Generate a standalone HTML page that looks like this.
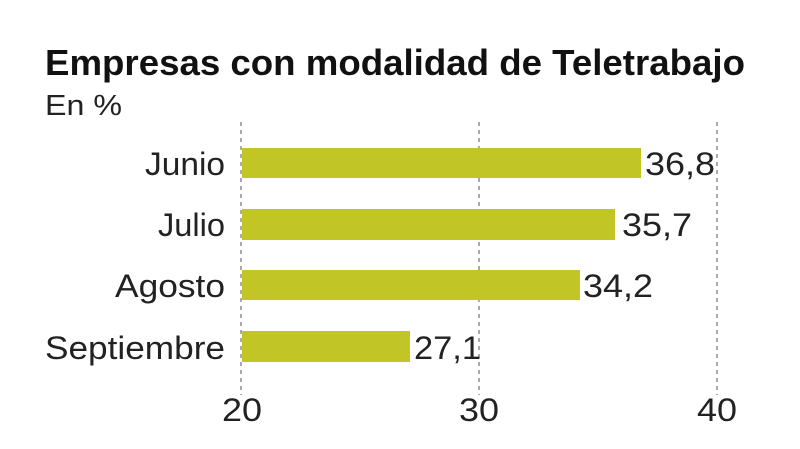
<!DOCTYPE html>
<html><head><meta charset="utf-8"><style>
body{margin:0;background:#fff;}
svg{display:block;font-family:"Liberation Sans",sans-serif;}
</style></head><body>
<svg width="800" height="449" viewBox="0 0 800 449">
<text x="45" y="75" font-size="36" font-weight="bold" fill="#111" textLength="700" lengthAdjust="spacingAndGlyphs">Empresas con modalidad de Teletrabajo</text>
<text x="45" y="115" font-size="29" fill="#222" textLength="77" lengthAdjust="spacingAndGlyphs">En %</text>
<g stroke="#aaa" stroke-width="2" stroke-dasharray="4,4">
<line x1="241" y1="122" x2="241" y2="395"/>
<line x1="479" y1="122" x2="479" y2="395"/>
<line x1="717" y1="122" x2="717" y2="395"/>
</g>
<g fill="#c1c526">
<rect x="242" y="148" width="399" height="30"/>
<rect x="242" y="209" width="373" height="31"/>
<rect x="242" y="270" width="338" height="30"/>
<rect x="242" y="331" width="168" height="31"/>
</g>
<g font-size="32" fill="#222" lengthAdjust="spacingAndGlyphs">
<text x="145" y="175" textLength="80" lengthAdjust="spacingAndGlyphs">Junio</text>
<text x="158" y="236" textLength="67" lengthAdjust="spacingAndGlyphs">Julio</text>
<text x="115" y="297" textLength="110" lengthAdjust="spacingAndGlyphs">Agosto</text>
<text x="45" y="359" textLength="180" lengthAdjust="spacingAndGlyphs">Septiembre</text>
</g>
<g font-size="32" fill="#222">
<text x="645" y="175" textLength="70" lengthAdjust="spacingAndGlyphs">36,8</text>
<text x="622" y="236" textLength="70" lengthAdjust="spacingAndGlyphs">35,7</text>
<text x="583" y="297" textLength="70" lengthAdjust="spacingAndGlyphs">34,2</text>
<text x="414" y="359" textLength="67" lengthAdjust="spacingAndGlyphs">27,1</text>
</g>
<g font-size="32" fill="#222">
<text x="222" y="421" textLength="40" lengthAdjust="spacingAndGlyphs">20</text>
<text x="459" y="421" textLength="40" lengthAdjust="spacingAndGlyphs">30</text>
<text x="697" y="421" textLength="40" lengthAdjust="spacingAndGlyphs">40</text>
</g>
</svg>
</body></html>
